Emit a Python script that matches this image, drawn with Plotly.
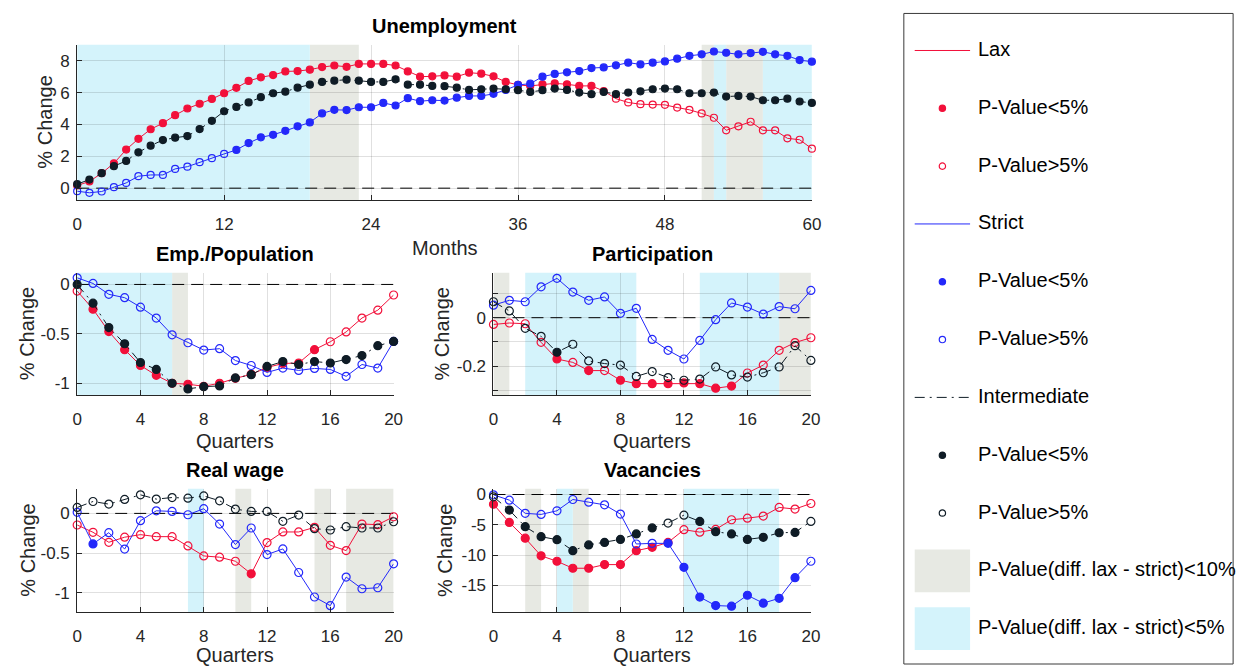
import plotly.graph_objects as go

W, H = 1252, 667
RED = "rgb(242,16,58)"
BLUE = "rgb(35,40,250)"
BLACK = "rgb(15,28,38)"
CYAN = "rgb(212,243,251)"
GRAY = "rgb(231,233,227)"
AXC = "#262626"
FONT = "Liberation Sans, Arial, Helvetica, sans-serif"

months = list(range(61))
quarters = list(range(21))

# ---------------- Unemployment (monthly) ----------------
unemp_lax = [0.17, 0.42, 0.94, 1.56, 2.42, 3.10, 3.70, 4.08, 4.58, 5.00, 5.30, 5.60, 5.96, 6.30, 6.73, 6.96,
             7.10, 7.33, 7.35, 7.44, 7.60, 7.70, 7.62, 7.80, 7.80, 7.80, 7.70, 7.33, 7.00, 7.02, 7.08, 7.00,
             7.25, 7.19, 7.02, 6.67, 6.48, 6.42, 6.52, 6.58, 6.52, 6.42, 6.42, 6.10, 5.62, 5.38, 5.27, 5.25,
             5.23, 5.06, 4.92, 4.69, 4.42, 3.63, 3.88, 4.17, 3.63, 3.63, 3.13, 3.04, 2.48]
unemp_lax_sig = [1] * 44 + [0] * 17
unemp_strict = [-0.19, -0.29, -0.21, 0.06, 0.33, 0.75, 0.83, 0.83, 1.21, 1.35, 1.63, 1.88, 2.15, 2.40, 2.83,
                3.19, 3.35, 3.60, 3.88, 4.13, 4.69, 4.92, 4.90, 5.08, 5.08, 5.35, 5.19, 5.65, 5.46, 5.52, 5.50,
                5.68, 5.79, 5.79, 5.92, 6.17, 6.48, 6.56, 7.00, 7.17, 7.27, 7.35, 7.54, 7.58, 7.71, 7.88, 7.77,
                7.88, 7.96, 8.13, 8.31, 8.40, 8.58, 8.50, 8.40, 8.48, 8.56, 8.40, 8.31, 8.04, 7.94]
unemp_strict_sig = [0] * 13 + [1] * 48
unemp_inter = [0.25, 0.54, 0.94, 1.38, 1.71, 2.25, 2.67, 3.02, 3.17, 3.27, 3.71, 4.23, 4.83, 5.10, 5.38, 5.71,
               5.96, 6.06, 6.31, 6.50, 6.67, 6.75, 6.81, 6.75, 6.67, 6.67, 6.83, 6.50, 6.50, 6.42, 6.40, 6.31,
               6.17, 6.21, 6.25, 6.21, 6.15, 6.04, 6.15, 6.25, 6.17, 6.00, 5.90, 6.04, 5.90, 6.00, 6.08, 6.21,
               6.25, 6.21, 5.96, 5.96, 6.00, 5.75, 5.79, 5.75, 5.52, 5.52, 5.62, 5.44, 5.35]
unemp_inter_sig = [1] * 61
unemp_p10 = [(19, 23), (51, 52), (53, 56)]
unemp_p5 = [(0, 19), (52, 53), (56, 60)]

# ---------------- Emp./Population ----------------
emp_lax = [-0.067, -0.25, -0.477, -0.66, -0.82, -0.92, -1.0, -1.01, -1.03, -1.0, -0.95, -0.91, -0.84, -0.80,
           -0.795, -0.66, -0.58, -0.48, -0.34, -0.26, -0.107]
emp_lax_sig = [0] + [1] * 15 + [0] * 5
emp_strict = [0.067, 0.01, -0.10, -0.134, -0.23, -0.34, -0.51, -0.59, -0.664, -0.65, -0.77, -0.82, -0.89,
              -0.846, -0.87, -0.85, -0.86, -0.93, -0.81, -0.846, -0.577]
emp_strict_sig = [0] * 20 + [1]
emp_inter = [0.0, -0.19, -0.436, -0.60, -0.79, -0.86, -1.0, -1.057, -1.034, -1.027, -0.946, -0.913, -0.83,
             -0.78, -0.81, -0.78, -0.795, -0.76, -0.72, -0.62, -0.577]
emp_inter_sig = [1] * 21
emp_p10 = [(6, 7)]
emp_p5 = [(0, 6)]

# ---------------- Participation ----------------
part_lax = [-0.028, -0.022, -0.025, -0.102, -0.171, -0.185, -0.219, -0.219, -0.259, -0.273, -0.273, -0.273,
            -0.27, -0.273, -0.292, -0.283, -0.229, -0.196, -0.135, -0.103, -0.083]
part_lax_sig = [0, 0, 0, 0, 1, 0, 1, 0, 1, 1, 1, 1, 1, 1, 1, 1, 0, 0, 0, 0, 0]
part_strict = [0.052, 0.072, 0.066, 0.128, 0.163, 0.106, 0.072, 0.086, 0.018, 0.039, -0.09, -0.135, -0.171,
               -0.094, -0.008, 0.061, 0.044, 0.015, 0.046, 0.037, 0.113]
part_strict_sig = [0] * 21
part_inter = [0.066, 0.028, -0.044, -0.077, -0.143, -0.11, -0.179, -0.19, -0.196, -0.243, -0.223, -0.248,
              -0.259, -0.254, -0.204, -0.237, -0.246, -0.228, -0.204, -0.116, -0.177]
part_inter_sig = [0, 0, 0, 0, 1] + [0] * 16
part_p10 = [(0, 1), (18, 20)]
part_p5 = [(2, 9), (13, 18)]

# ---------------- Real wage ----------------
wage_lax = [-0.146, -0.238, -0.364, -0.30, -0.268, -0.293, -0.293, -0.41, -0.536, -0.552, -0.603, -0.762,
            -0.368, -0.234, -0.234, -0.176, -0.402, -0.469, -0.134, -0.142, -0.042]
wage_lax_sig = [0] * 11 + [1] + [0] * 9
wage_strict = [0.013, -0.385, -0.243, -0.45, -0.092, 0.033, 0.025, -0.017, 0.059, -0.134, -0.393, -0.184,
               -0.519, -0.448, -0.745, -1.054, -1.163, -0.803, -0.95, -0.937, -0.636]
wage_strict_sig = [0, 1] + [0] * 19
wage_inter = [0.075, 0.15, 0.117, 0.176, 0.234, 0.18, 0.2, 0.192, 0.22, 0.159, 0.054, 0.025, 0.025, -0.10,
              -0.021, -0.192, -0.209, -0.167, -0.184, -0.184, -0.105]
wage_inter_sig = [0] * 21
wage_p10 = [(10, 11), (15, 16), (17, 20)]
wage_p5 = [(7, 8)]

# ---------------- Vacancies ----------------
vac_lax = [-1.6, -4.6, -7.2, -10.1, -11.0, -12.15, -12.15, -11.55, -11.55, -9.25, -8.7, -7.9, -5.8, -6.2,
           -5.75, -4.16, -3.9, -3.56, -2.13, -2.4, -1.48]
vac_lax_sig = [1] * 12 + [0] * 9
vac_strict = [-0.05, -0.93, -3.1, -3.28, -2.68, -0.82, -1.26, -1.7, -3.23, -8.15, -8.05, -8.05, -12.0, -16.9,
              -18.3, -18.4, -16.6, -17.9, -17.1, -13.7, -11.0]
vac_strict_sig = [0] * 11 + [1] * 9 + [0]
vac_inter = [-0.38, -2.57, -5.3, -6.95, -7.44, -9.25, -8.3, -7.9, -7.4, -6.5, -5.5, -4.7, -3.4, -4.43, -6.13,
             -6.5, -7.4, -7.06, -6.3, -6.24, -4.43]
vac_inter_sig = [0] + [1] * 10 + [0, 0] + [1] * 7 + [0]
vac_p10 = [(2, 3), (5, 6)]
vac_p5 = [(4, 5), (12, 18)]

# tick definitions
month_ticks = [0, 12, 24, 36, 48, 60]
quarter_ticks = [0, 4, 8, 12, 16, 20]
unemp_yticks = [0, 2, 4, 6, 8]
emp_yticks = [-1, -0.5, 0]
part_yticks = [-0.3, -0.2, -0.1, 0, 0.1]
part_ylabels = ["", "-0.2", "", "0", ""]
wage_yticks = [-1, -0.5, 0]
vac_yticks = [-15, -10, -5, 0]


def fy(py):
    return 1 - py / H


panels = [
    dict(title="Unemployment", xlab="Months", x=months, xt=month_ticks, yt=unemp_yticks, yl=None,
         lax=(unemp_lax, unemp_lax_sig), strict=(unemp_strict, unemp_strict_sig),
         inter=(unemp_inter, unemp_inter_sig), p10=unemp_p10, p5=unemp_p5,
         box=(73, 816, 42, 198), yr=[-0.75, 9.0], ms=7, ylshift=-32, xlshift=-48),
    dict(title="Emp./Population", xlab="Quarters", x=quarters, xt=quarter_ticks, yt=emp_yticks, yl=None,
         lax=(emp_lax, emp_lax_sig), strict=(emp_strict, emp_strict_sig),
         inter=(emp_inter, emp_inter_sig), p10=emp_p10, p5=emp_p5,
         box=(73, 393, 271, 394), yr=[-1.121, 0.118], ms=8, ylshift=-50, xlshift=-46),
    dict(title="Participation", xlab="Quarters", x=quarters, xt=quarter_ticks, yt=part_yticks, yl=part_ylabels,
         lax=(part_lax, part_lax_sig), strict=(part_strict, part_strict_sig),
         inter=(part_inter, part_inter_sig), p10=part_p10, p5=part_p5,
         box=(494, 815, 271, 394), yr=[-0.321, 0.186], ms=8, ylshift=-51, xlshift=-46),
    dict(title="Real wage", xlab="Quarters", x=quarters, xt=quarter_ticks, yt=wage_yticks, yl=None,
         lax=(wage_lax, wage_lax_sig), strict=(wage_strict, wage_strict_sig),
         inter=(wage_inter, wage_inter_sig), p10=wage_p10, p5=wage_p5,
         box=(73, 393, 488, 612), yr=[-1.246, 0.31], ms=8, ylshift=-50, xlshift=-43),
    dict(title="Vacancies", xlab="Quarters", x=quarters, xt=quarter_ticks, yt=vac_yticks, yl=None,
         lax=(vac_lax, vac_lax_sig), strict=(vac_strict, vac_strict_sig),
         inter=(vac_inter, vac_inter_sig), p10=vac_p10, p5=vac_p5,
         box=(494, 815, 488, 612), yr=[-19.4, 0.94], ms=8, ylshift=-49, xlshift=-43),
]

fig = go.Figure()
shapes = []
annotations = []
layout_axes = {}


def fmt(v):
    return "%g" % v


for i, p in enumerate(panels):
    n = "" if i == 0 else str(i + 1)
    xa, ya = "x" + n, "y" + n
    x0, x1, y0, y1 = p["box"]
    xs = p["x"]
    layout_axes["xaxis" + n] = dict(
        domain=[x0 / W, x1 / W], anchor=ya, range=[xs[0], xs[-1]],
        tickmode="array", tickvals=p["xt"], ticktext=[fmt(v) for v in p["xt"]],
        showgrid=True, gridcolor="rgba(0,0,0,0.12)", gridwidth=1, zeroline=False,
        showline=True, linecolor=AXC, linewidth=1, ticks="inside", ticklen=5, tickcolor=AXC,
        tickfont=dict(family=FONT, size=17, color=AXC), ticklabelstandoff=8,
    )
    layout_axes["yaxis" + n] = dict(
        domain=[fy(y1), fy(y0)], anchor=xa, range=p["yr"],
        tickmode="array", tickvals=p["yt"], ticktext=p["yl"] or [fmt(v) for v in p["yt"]],
        showgrid=True, gridcolor="rgba(0,0,0,0.12)", gridwidth=1, zeroline=False,
        showline=True, linecolor=AXC, linewidth=1, ticks="inside", ticklen=5, tickcolor=AXC,
        tickfont=dict(family=FONT, size=17, color=AXC), ticklabelstandoff=3,
    )
    # shading
    for (a, b) in p["p10"]:
        shapes.append(dict(type="rect", xref=xa, yref=ya + " domain", x0=a, x1=b, y0=0, y1=1,
                           fillcolor=GRAY, line_width=0, layer="below"))
    for (a, b) in p["p5"]:
        shapes.append(dict(type="rect", xref=xa, yref=ya + " domain", x0=a, x1=b, y0=0, y1=1,
                           fillcolor=CYAN, line_width=0, layer="below"))
    # zero line
    fig.add_trace(go.Scatter(x=[xs[0], xs[-1]], y=[0, 0], mode="lines", xaxis=xa, yaxis=ya,
                             line=dict(color="black", width=1, dash="12px,7px"),
                             showlegend=False, hoverinfo="skip"))
    for key, col, dash in [("lax", RED, "solid"), ("strict", BLUE, "solid"),
                           ("inter", BLACK, "10px,5px,2px,5px")]:
        vals, sig = p[key]
        fig.add_trace(go.Scatter(x=xs, y=vals, mode="lines", xaxis=xa, yaxis=ya,
                                 line=dict(color=col, width=1, dash=dash), showlegend=False))
        fig.add_trace(go.Scatter(
            x=xs, y=vals, mode="markers", xaxis=xa, yaxis=ya, cliponaxis=False,
            marker=dict(size=p["ms"], color=col,
                        symbol=["circle" if s else "circle-open" for s in sig],
                        line=dict(color=col, width=1.2)),
            showlegend=False))
    # titles / labels
    annotations.append(dict(text="<b>%s</b>" % p["title"], xref=xa + " domain", yref=ya + " domain",
                            x=0.5, y=1, yshift=19, showarrow=False, xanchor="center", yanchor="middle",
                            font=dict(family=FONT, size=20, color="black")))
    annotations.append(dict(text=p["xlab"], xref=xa + " domain", yref=ya + " domain",
                            x=0.5, y=0, yshift=p["xlshift"], showarrow=False, xanchor="center",
                            yanchor="middle", font=dict(family=FONT, size=20, color=AXC)))
    annotations.append(dict(text="% Change", xref=xa + " domain", yref=ya + " domain",
                            x=0, y=0.5, xshift=p["ylshift"], showarrow=False, textangle=-90,
                            xanchor="center", yanchor="middle",
                            font=dict(family=FONT, size=20, color=AXC)))

# ---------------- Legend (drawn manually) ----------------
legend_labels = ["Lax", "P-Value<5%", "P-Value>5%", "Strict", "P-Value<5%", "P-Value>5%",
                 "Intermediate", "P-Value<5%", "P-Value>5%",
                 "P-Value(diff. lax - strict)<10%", "P-Value(diff. lax - strict)<5%"]
legend_kinds = [("line", RED, "solid"), ("fill", RED, None), ("open", RED, None),
                ("line", BLUE, "solid"), ("fill", BLUE, None), ("open", BLUE, None),
                ("line", BLACK, "dashdot"), ("fill", BLACK, None), ("open", BLACK, None),
                ("patch", GRAY, None), ("patch", CYAN, None)]

shapes.append(dict(type="rect", xref="paper", yref="paper", x0=909 / W, x1=1242 / W, y0=fy(664), y1=fy(10.5),
                   line=dict(color="#3a3a3a", width=1), fillcolor="rgba(0,0,0,0)", layer="above"))
for k, (lab, (kind, col, ds)) in enumerate(zip(legend_labels, legend_kinds)):
    cy = 47.7 + 58.08 * k
    if kind == "line":
        shapes.append(dict(type="line", xref="paper", yref="paper", x0=920 / W, x1=976 / W,
                           y0=fy(cy), y1=fy(cy),
                           line=dict(color=col, width=1,
                                     dash="10px,5px,2px,5px" if ds == "dashdot" else "solid")))
    elif kind in ("fill", "open"):
        r = 3.2
        shapes.append(dict(type="circle", xref="paper", yref="paper",
                           x0=(948 - r) / W, x1=(948 + r) / W, y0=fy(cy + r), y1=fy(cy - r),
                           line=dict(color=col, width=1.2),
                           fillcolor=col if kind == "fill" else "white"))
    else:
        shapes.append(dict(type="rect", xref="paper", yref="paper", x0=920 / W, x1=976 / W,
                           y0=fy(cy + 21.5), y1=fy(cy - 21.5), line_width=0, fillcolor=col))
    annotations.append(dict(text=lab, xref="paper", yref="paper", x=982 / W, y=fy(cy - 1.5),
                            xanchor="left", yanchor="middle", showarrow=False,
                            font=dict(family=FONT, size=20, color="black")))

fig.update_layout(
    width=W, height=H, margin=dict(l=0, r=0, t=0, b=0),
    paper_bgcolor="white", plot_bgcolor="white",
    showlegend=False, shapes=shapes, annotations=annotations,
    **layout_axes,
)

fig.write_html("out.html")
